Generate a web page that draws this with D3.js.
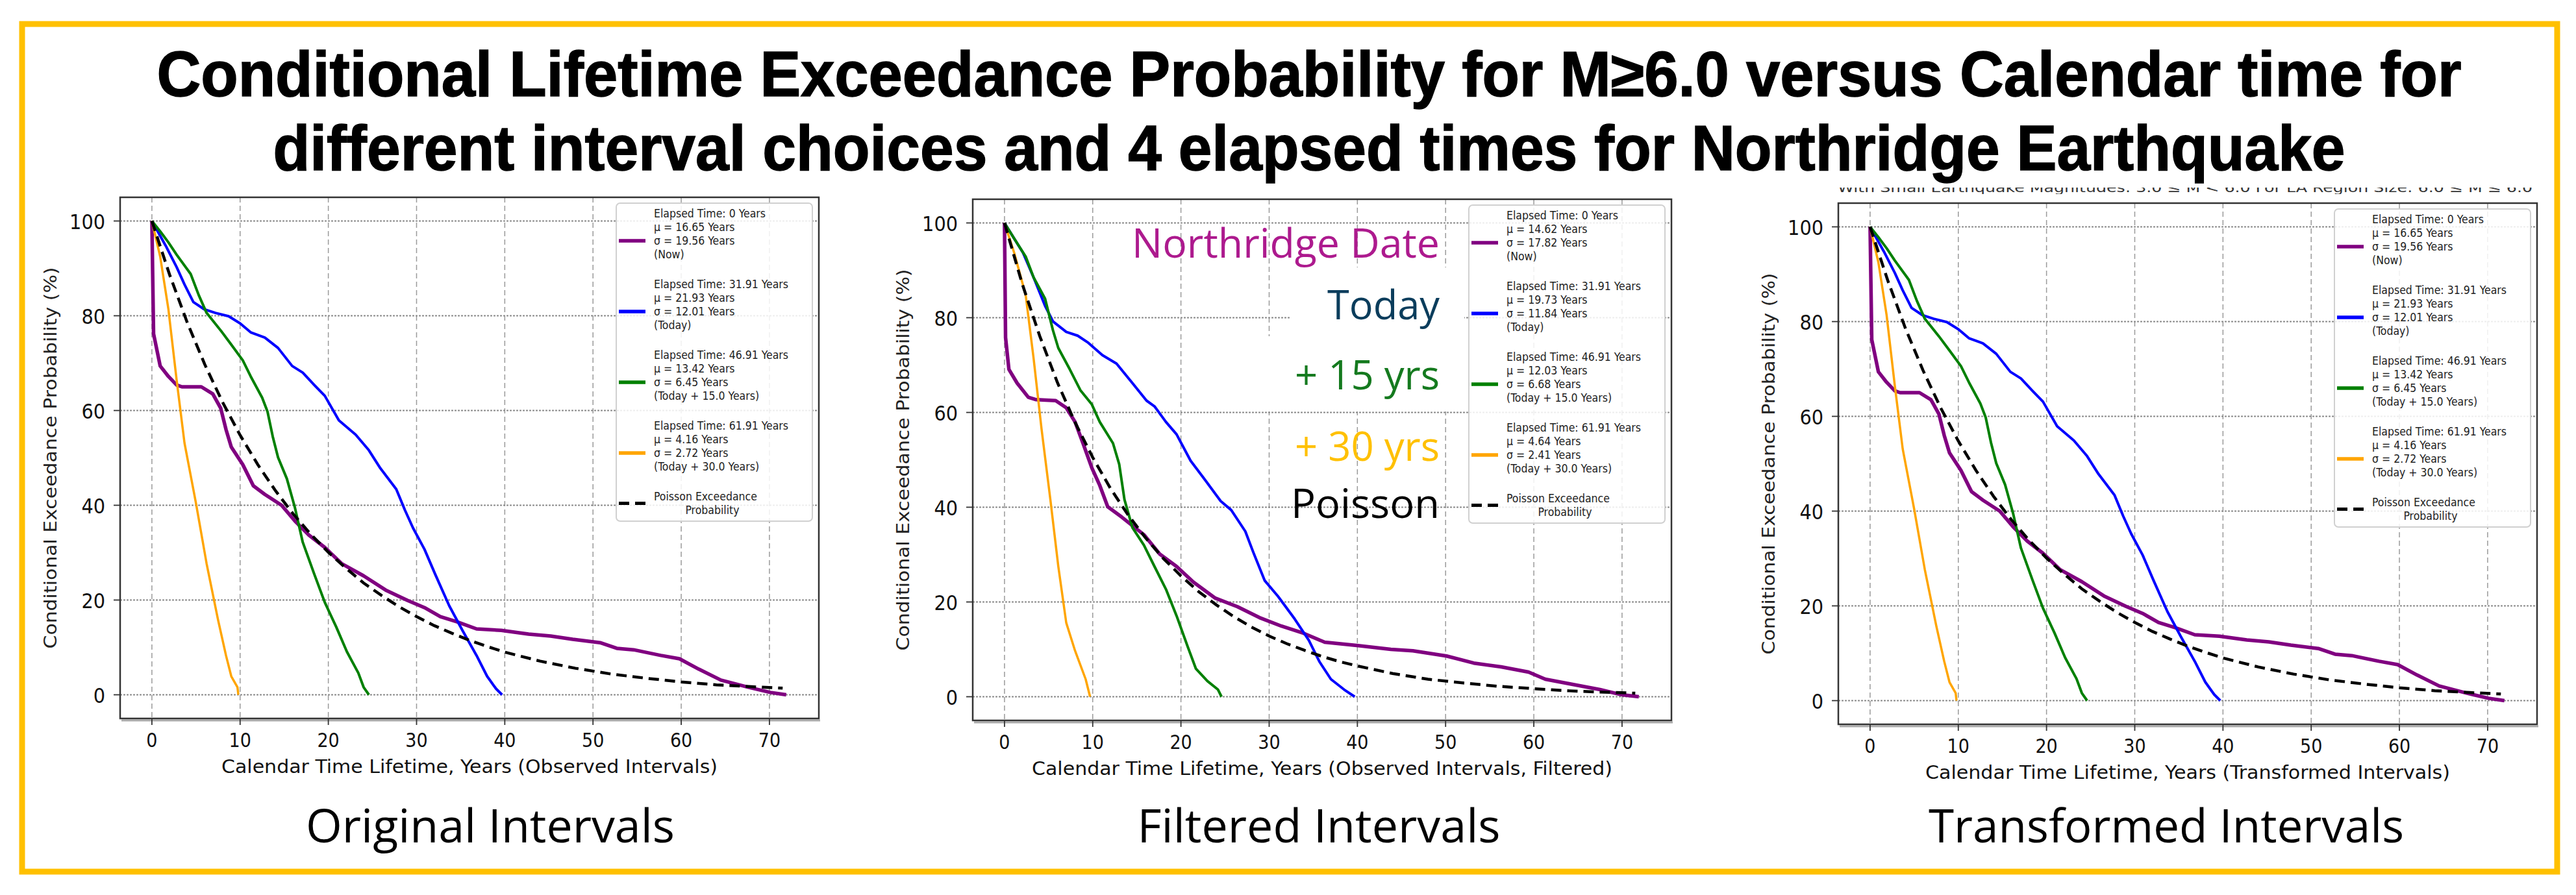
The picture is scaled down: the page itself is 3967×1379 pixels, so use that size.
<!DOCTYPE html>
<html>
<head>
<meta charset="utf-8">
<script src="https://cdn.jsdelivr.net/npm/d3@7"></script>
<style>
  body { margin: 0; background: #fff; }
</style>
</head>
<body>
<svg id="chart" width="3967" height="1379"></svg>
<script>
// values (x = years, y = %)

const xTicks = [0, 10, 20, 30, 40, 50, 60, 70];
const yTicks = [0, 20, 40, 60, 80, 100];

const titleLines = [
    "Conditional Lifetime Exceedance Probability for M\u22656.0 versus  Calendar time for",
    "different interval choices and 4 elapsed times for Northridge Earthquake"
];
const captions = ["Original Intervals", "Filtered Intervals", "Transformed Intervals"];
const xLabels = [
    "Calendar Time Lifetime, Years (Observed Intervals)",
    "Calendar Time Lifetime, Years (Observed Intervals, Filtered)",
    "Calendar Time Lifetime, Years (Transformed Intervals)"
];
const yLabel = "Conditional Exceedance Probability (%)";
const seriesColors = ["purple", "blue", "green", "orange"];

// original intervals (the transformed panel shows the same curves)
const origNow = [[0,100],[0.19,76.2],[0.94,69.4],[1.87,67.2],[2.8,65.4],[3.4,65],[5.6,65],[6.9,63.5],
    [7.8,60.5],[8.4,56],[9.0,52.3],[10.3,48.6],[11.5,44.1],[12.8,42.3],[14.7,40],[16.2,36.7],[17.8,33.7],
    [19.6,31.1],[21.5,27.7],[24,25.1],[26.5,22.1],[29,19.9],[30.9,18.4],[32.7,16.5],[34.6,15.4],[36.8,13.9],
    [39.6,13.6],[42.7,12.8],[45.2,12.4],[47.7,11.7],[50.8,11],[52.7,9.8],[54.6,9.5],[57.7,8.3],[59.8,7.6],
    [62,5.4],[64.5,3.1],[67.6,1.6],[70.1,0.5],[71.9,0]];
const origToday = [[0,100],[1.56,94.8],[2.8,90.3],[3.7,86.6],[4.7,82.9],[5.9,81.4],[7.2,80.6],[8.7,79.9],
    [10,78.4],[11.2,76.5],[12.8,75.4],[14.3,73.2],[15.9,69.4],[17.1,68],[18.4,65.4],[19.6,63.1],[21.2,57.9],
    [23.1,54.9],[24.6,51.6],[25.9,47.8],[27.7,43.4],[28.7,38.9],[29.6,35.2],[30.9,30.7],[32.1,25.5],
    [33.7,18.8],[35.2,13.6],[36.8,8.3],[38,3.9],[39,1.3],[39.7,0]];
const origPlus15 = [[0,100],[0.94,97.8],[1.87,95.5],[2.8,92.9],[4.4,88.8],[5.3,84.4],[6.2,80.6],[7.8,76.9],
    [9.0,73.9],[10.3,70.6],[11.2,67.2],[12.5,62.7],[13.1,59.8],[13.7,54.5],[14.3,50.1],[15.3,45.6],
    [16.2,39.6],[17.1,32.2],[18.4,25.5],[19.6,19.5],[20.9,14.3],[22.1,9.1],[23.4,4.6],[24,1.6],[24.6,0]];
const origPlus30 = [[0,100],[0.94,92.5],[1.87,81.4],[2.8,66.5],[3.7,53.1],[5,40.4],[6.2,27.7],[7.5,15.8],
    [8.4,8.3],[9.0,3.9],[9.7,1.6],[9.8,0]];
const origPoisson = [[0,100],[2,88.7],[4,78.6],[6,69.7],[8,61.8],[10,54.8],[12,48.6],[14,43.1],[16,38.2],
    [18,33.9],[20,30.1],[22,26.7],[24,23.6],[26,21.0],[28,18.6],[30,16.5],[32,14.6],[34,13.0],[36,11.5],
    [38,10.2],[40,9.0],[44,7.1],[48,5.6],[52,4.4],[56,3.5],[60,2.7],[64,2.1],[68,1.7],[71.5,1.4]];

// filtered intervals
const filtNow = [[0,100],[0.12,75.8],[0.5,69.1],[1.43,66.2],[2.7,63.2],[3.6,62.7],[5.8,62.5],[7.0,61],
    [8.0,58],[8.9,53.5],[9.9,48.3],[10.8,44.6],[11.7,40.1],[13.3,37.9],[14.5,36.1],[15.8,34.2],[17.6,30.1],
    [19.5,27.5],[21.4,24.2],[23.9,20.8],[26.4,19],[28.9,16.7],[31.4,14.9],[33.9,13.4],[36.3,11.5],
    [40.1,10.8],[43.8,10],[46.3,9.7],[50.1,8.6],[53.2,7.1],[56.3,6.3],[59.4,5.2],[61.3,3.7],[64.4,2.6],
    [67.5,1.5],[70,0.4],[71.9,0]];
const filtToday = [[0,100],[2.1,93.7],[3.3,88.5],[4.6,82.5],[5.5,79.2],[7.0,77],[8.3,76.2],[9.5,74.7],
    [11.1,72.1],[12.7,70.3],[14.5,66.2],[16.1,62.5],[17,61.3],[18.3,58],[19.5,55.4],[21.1,49.8],[22.6,46.1],
    [24.5,41.3],[25.7,39.4],[27.3,34.9],[28.2,30.5],[29.5,24.5],[31,21.2],[32.9,16.4],[34.5,11.9],
    [35.7,7.4],[37,3.7],[38.5,1.5],[39.7,0]];
const filtPlus15 = [[0,100],[1.1,96.7],[2.4,92.9],[3.3,88.5],[4.6,84],[5.5,77.3],[6.1,73.6],[7.4,69.1],
    [8.6,64.7],[9.9,61.7],[10.8,58],[12.3,53.5],[13.0,49.1],[13.6,41.6],[14.5,35.7],[15.8,32],[17,27.5],
    [18.3,22.7],[19.5,17.1],[20.8,10.4],[21.7,5.9],[23,3.3],[24.2,1.5],[24.6,0]];
const filtPlus30 = [[0,100],[1.1,93.7],[2.4,84.8],[3.3,71.4],[4.2,56.5],[5.2,41.6],[6.1,27.5],[7.0,15.6],
    [8.0,9.7],[9.2,3.7],[9.7,0]];
const filtPoisson = [[0,100],[2,87.2],[4,76.1],[6,66.3],[8,57.9],[10,50.5],[12,44.0],[14,38.4],[16,33.5],
    [18,29.2],[20,25.5],[22,22.2],[24,19.4],[26,16.9],[28,14.7],[30,12.8],[32,11.2],[34,9.8],[36,8.5],
    [38,7.4],[40,6.5],[44,4.9],[48,3.7],[52,2.9],[56,2.2],[60,1.7],[64,1.25],[68,0.95],[71.5,0.75]];

const origLegend = [
    ["Elapsed Time: 0 Years", "\u03bc = 16.65 Years", "\u03c3 = 19.56 Years", "(Now)"],
    ["Elapsed Time: 31.91 Years", "\u03bc = 21.93 Years", "\u03c3 = 12.01 Years", "(Today)"],
    ["Elapsed Time: 46.91 Years", "\u03bc = 13.42 Years", "\u03c3 = 6.45 Years", "(Today + 15.0 Years)"],
    ["Elapsed Time: 61.91 Years", "\u03bc = 4.16 Years", "\u03c3 = 2.72 Years", "(Today + 30.0 Years)"]
];
const filtLegend = [
    ["Elapsed Time: 0 Years", "\u03bc = 14.62 Years", "\u03c3 = 17.82 Years", "(Now)"],
    ["Elapsed Time: 31.91 Years", "\u03bc = 19.73 Years", "\u03c3 = 11.84 Years", "(Today)"],
    ["Elapsed Time: 46.91 Years", "\u03bc = 12.03 Years", "\u03c3 = 6.68 Years", "(Today + 15.0 Years)"],
    ["Elapsed Time: 61.91 Years", "\u03bc = 4.64 Years", "\u03c3 = 2.41 Years", "(Today + 30.0 Years)"]
];
const poissonLegend = ["Poisson Exceedance", "Probability"];

const noteLabels = ["Northridge Date", "Today", "+ 15 yrs", "+ 30 yrs", "Poisson"];
const noteColors = ["#ad1a8e", "#0b3d5c", "#157a1f", "#ffc000", "#000000"];

// ---- layout ----
const svg = d3.select("#chart");
const condensed = "'DejaVu Sans Condensed', 'Liberation Sans Narrow', 'DejaVu Sans', sans-serif";
const W = 1076, H = 803;

const panels = [
    { left: 185, top: 304, curves: [origNow, origToday, origPlus15, origPlus30], poisson: origPoisson,
      legend: origLegend, capX: 755, capW: 568, xlW: 764 },
    { left: 1498, top: 307, curves: [filtNow, filtToday, filtPlus15, filtPlus30], poisson: filtPoisson,
      legend: filtLegend, capX: 2031, capW: 559, xlW: 894 },
    { left: 2831, top: 313, curves: [origNow, origToday, origPlus15, origPlus30], poisson: origPoisson,
      legend: origLegend, capX: 3336, capW: 732, xlW: 808 }
];

// yellow frame round the whole figure
svg.append("rect")
    .attr("x", 34).attr("y", 37).attr("width", 3904).attr("height", 1306)
    .attr("fill", "none").attr("stroke", "#ffc000").attr("stroke-width", 9);

// title
titleLines.forEach((t, i) => {
    svg.append("text")
        .attr("x", 2016).attr("y", i === 0 ? 148 : 262)
        .attr("text-anchor", "middle")
        .attr("font-family", "'Liberation Sans', Arial, sans-serif")
        .attr("font-weight", "bold")
        .attr("font-size", 98)
        .attr("stroke", "#000").attr("stroke-width", 1.5)
        .attr("textLength", i === 0 ? 3549 : 3191)
        .attr("lengthAdjust", "spacingAndGlyphs")
        .text(t);
});

// clipped subtitle strip above the third panel (only its lower edge shows)
svg.append("clipPath").attr("id", "subclip")
    .append("rect").attr("x", 2820).attr("y", 289).attr("width", 1100).attr("height", 10);
svg.append("text")
    .attr("clip-path", "url(#subclip)")
    .attr("x", 2830).attr("y", 296)
    .attr("font-family", condensed).attr("font-size", 20).attr("fill", "#333")
    .attr("textLength", 1070).attr("lengthAdjust", "spacingAndGlyphs")
    .text("With Small Earthquake Magnitudes: 3.0 \u2264 M < 6.0  For LA Region Size: 6.0  \u2264 M \u2264 6.0");

const line = d3.line();

panels.forEach((p, pi) => {
    const x = d3.scaleLinear().domain([-3.6, 75.6]).range([p.left, p.left + W]);
    const y = d3.scaleLinear().domain([-5, 105]).range([p.top + H, p.top]);
    const g = svg.append("g");

    // grid
    g.selectAll(".vg").data(xTicks).join("line")
        .attr("x1", d => x(d)).attr("x2", d => x(d))
        .attr("y1", p.top).attr("y2", p.top + H)
        .attr("stroke", "#9a9a9a").attr("stroke-width", 1.5).attr("stroke-dasharray", "8,5");
    g.selectAll(".hg").data(yTicks).join("line")
        .attr("x1", p.left).attr("x2", p.left + W)
        .attr("y1", d => y(d)).attr("y2", d => y(d))
        .attr("stroke", "#8a8a8a").attr("stroke-width", 2).attr("stroke-dasharray", "3,2");

    // white text boxes of the annotations hide part of the grid
    if (pi === 1) {
        g.append("rect").attr("x", 1988).attr("y", 412).attr("width", 267).attr("height", 108).attr("fill", "#fff");
        g.append("rect").attr("x", 1935).attr("y", 518).attr("width", 320).attr("height", 116).attr("fill", "#fff");
    }

    // curves
    p.curves.forEach((c, ci) => {
        g.append("path")
            .attr("d", line(c.map(d => [x(d[0]), y(d[1])])))
            .attr("fill", "none")
            .attr("stroke", seriesColors[ci])
            .attr("stroke-width", ci === 0 ? 5.5 : (ci === 3 ? 3.5 : 4))
            .attr("stroke-linejoin", "round");
    });
    g.append("path")
        .attr("d", line(p.poisson.map(d => [x(d[0]), y(d[1])])))
        .attr("fill", "none").attr("stroke", "#000")
        .attr("stroke-width", 4.5).attr("stroke-dasharray", "16,9");

    // frame
    g.append("line")
        .attr("x1", p.left + 2).attr("x2", p.left + W + 2)
        .attr("y1", p.top + H + 3).attr("y2", p.top + H + 3)
        .attr("stroke", "#aaa").attr("stroke-width", 3);
    g.append("rect")
        .attr("x", p.left).attr("y", p.top).attr("width", W).attr("height", H)
        .attr("fill", "none").attr("stroke", "#333").attr("stroke-width", 2.5);

    // ticks and tick labels
    g.selectAll(".xt").data(xTicks).join("line")
        .attr("x1", d => x(d)).attr("x2", d => x(d))
        .attr("y1", p.top + H).attr("y2", p.top + H + 10)
        .attr("stroke", "#333").attr("stroke-width", 1.8);
    g.selectAll(".xl").data(xTicks).join("text")
        .attr("x", d => x(d)).attr("y", p.top + H + 44)
        .attr("text-anchor", "middle")
        .attr("font-family", condensed).attr("font-size", 30).attr("fill", "#111")
        .text(d => d);
    g.selectAll(".yt").data(yTicks).join("line")
        .attr("x1", p.left - 10).attr("x2", p.left)
        .attr("y1", d => y(d)).attr("y2", d => y(d))
        .attr("stroke", "#333").attr("stroke-width", 1.8);
    g.selectAll(".yl").data(yTicks).join("text")
        .attr("x", p.left - 23).attr("y", d => y(d) + 12)
        .attr("text-anchor", "end")
        .attr("font-family", condensed).attr("font-size", 32).attr("fill", "#111")
        .text(d => d);

    // axis labels
    g.append("text")
        .attr("x", p.left + W / 2).attr("y", p.top + H + 84)
        .attr("text-anchor", "middle")
        .attr("font-family", condensed).attr("font-size", 28).attr("fill", "#111")
        .attr("textLength", p.xlW).attr("lengthAdjust", "spacingAndGlyphs")
        .text(xLabels[pi]);
    g.append("text")
        .attr("transform", `translate(${p.left - 98},${p.top + H / 2}) rotate(-90)`)
        .attr("text-anchor", "middle")
        .attr("font-family", "'DejaVu Sans', sans-serif").attr("font-size", 26).attr("fill", "#222")
        .attr("textLength", 588).attr("lengthAdjust", "spacingAndGlyphs")
        .text(yLabel);

    // legend
    const L = p.left + W - 312, T = p.top + 9;
    const lg = g.append("g");
    lg.append("rect")
        .attr("x", L).attr("y", T).attr("width", 302).attr("height", 490).attr("rx", 6)
        .attr("fill", "#fff").attr("fill-opacity", 0.85)
        .attr("stroke", "#d0d0d0").attr("stroke-width", 2);
    p.legend.forEach((entry, ei) => {
        const y0 = T + 16 + 109 * ei;
        lg.append("line")
            .attr("x1", L + 4).attr("x2", L + 45)
            .attr("y1", y0 + 42).attr("y2", y0 + 42)
            .attr("stroke", seriesColors[ei]).attr("stroke-width", 5.5);
        entry.forEach((t, li) => {
            lg.append("text")
                .attr("x", L + 58).attr("y", y0 + 21 * li + 6)
                .attr("font-family", condensed).attr("font-size", 17.5).attr("fill", "#222")
                .text(t);
        });
    });
    const yP = T + 16 + 436;
    lg.append("line")
        .attr("x1", L + 4).attr("x2", L + 45)
        .attr("y1", yP + 10.5).attr("y2", yP + 10.5)
        .attr("stroke", "#000").attr("stroke-width", 5).attr("stroke-dasharray", "16,9");
    lg.append("text")
        .attr("x", L + 58).attr("y", yP + 6)
        .attr("font-family", condensed).attr("font-size", 17.5).attr("fill", "#222")
        .text(poissonLegend[0]);
    lg.append("text")
        .attr("x", L + 148).attr("y", yP + 27)
        .attr("text-anchor", "middle")
        .attr("font-family", condensed).attr("font-size", 17.5).attr("fill", "#222")
        .text(poissonLegend[1]);

    // caption under each panel
    svg.append("text")
        .attr("x", p.capX).attr("y", 1298)
        .attr("text-anchor", "middle")
        .attr("font-family", "'Open Sans', 'Noto Sans', sans-serif").attr("font-size", 72)
        .attr("textLength", p.capW).attr("lengthAdjust", "spacingAndGlyphs")
        .text(captions[pi]);
});

// annotation texts inside the middle panel
const noteBase = [397, 492, 600, 710, 798];
const noteW = [474, 173, 223, 223, 229];
noteLabels.forEach((t, i) => {
    svg.append("text")
        .attr("x", 2217).attr("y", noteBase[i])
        .attr("text-anchor", "end")
        .attr("font-family", "'Open Sans', 'Noto Sans', sans-serif").attr("font-size", 62)
        .attr("fill", noteColors[i])
        .attr("textLength", noteW[i]).attr("lengthAdjust", "spacingAndGlyphs")
        .text(t);
});
</script>
</body>
</html>
